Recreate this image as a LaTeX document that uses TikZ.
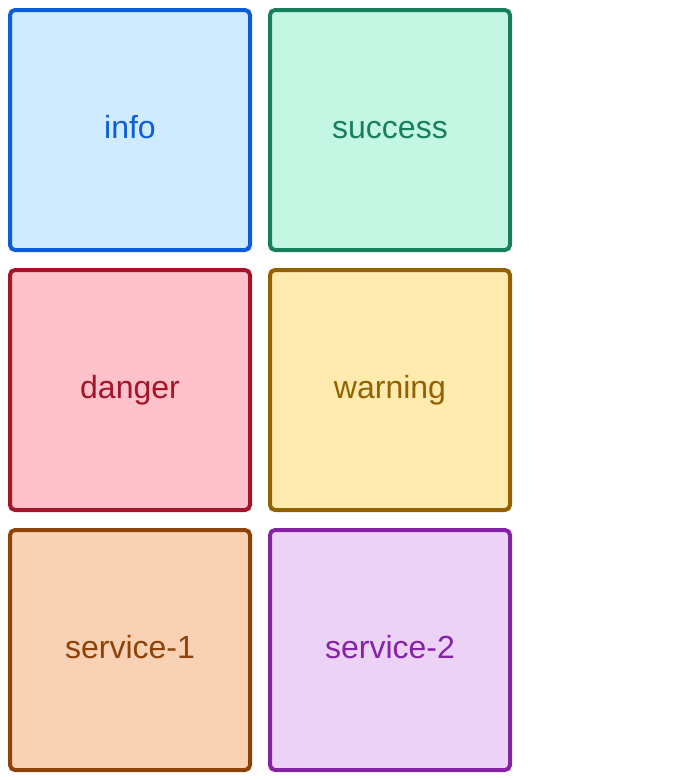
\documentclass[tikz,border=0pt]{standalone}
\usepackage{fontspec}
\setmainfont{Liberation Sans}
\definecolor{infoF}{RGB}{208,235,255}
\definecolor{infoS}{RGB}{11,94,215}
\definecolor{succF}{RGB}{195,247,227}
\definecolor{succS}{RGB}{22,128,92}
\definecolor{dangF}{RGB}{255,194,202}
\definecolor{dangS}{RGB}{165,20,40}
\definecolor{warnF}{RGB}{255,235,173}
\definecolor{warnS}{RGB}{148,97,0}
\definecolor{servaF}{RGB}{249,210,181}
\definecolor{servaS}{RGB}{143,66,8}
\definecolor{servbF}{RGB}{237,210,247}
\definecolor{servbS}{RGB}{134,34,166}
\tikzset{
  tile/.style n args={2}{draw=#1, fill=#2, line width=4pt, rounded corners=5pt,
    minimum width=240pt, minimum height=240pt, inner sep=0pt,
    text height=23pt, text depth=7pt,
    text=#1, font=\fontsize{32}{38}\selectfont}
}
\begin{document}
\begin{tikzpicture}[x=1pt,y=-1pt]
\useasboundingbox (0,0) rectangle (686,780);
\node[tile={infoS}{infoF}] (info) at (130,130) {info};
\node[tile={succS}{succF}] (success) at (390,130) {success};
\node[tile={dangS}{dangF}] (danger) at (130,390) {danger};
\node[tile={warnS}{warnF}] (warning) at (390,390) {warning};
\node[tile={servaS}{servaF}] (service1) at (130,650) {service-1};
\node[tile={servbS}{servbF}] (service2) at (390,650) {service-2};
\end{tikzpicture}
\end{document}
